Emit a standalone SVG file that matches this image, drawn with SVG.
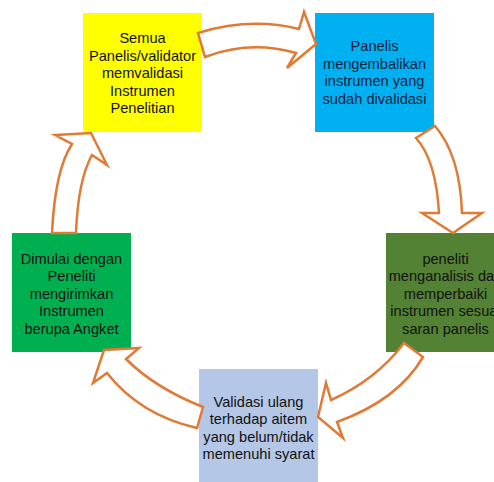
<svg xmlns="http://www.w3.org/2000/svg" width="494" height="482" viewBox="0 0 494 482">
<style>
text{font-family:"Liberation Sans",Arial,sans-serif;font-size:14.6px;text-anchor:middle;fill:#111}
.arrow{fill:#fff;stroke:#E07A35;stroke-width:2.5;stroke-linejoin:miter}
</style>
<rect width="494" height="482" fill="#fff"/>
<g id="node-yellow">
<rect x="83" y="13" width="119" height="119" fill="#FFFF00"/>
<text x="142.5" y="43">Semua</text>
<text x="142.5" y="60.5">Panelis/validator</text>
<text x="142.5" y="78">memvalidasi</text>
<text x="142.5" y="95.5">Instrumen</text>
<text x="142.5" y="113">Penelitian</text>
</g>
<g id="node-blue">
<rect x="315" y="13" width="119" height="119" fill="#00B0F0"/>
<text x="374.5" y="51" style="fill:#0F2240">Panelis</text>
<text x="374.5" y="68.5" style="fill:#0F2240">mengembalikan</text>
<text x="374.5" y="86" style="fill:#0F2240">instrumen yang</text>
<text x="374.5" y="103.5" style="fill:#0F2240">sudah divalidasi</text>
</g>
<g id="node-darkgreen">
<rect x="386" y="233" width="119" height="119" fill="#548235"/>
<text x="445.5" y="263.5">peneliti</text>
<text x="445.5" y="281">menganalisis dan</text>
<text x="445.5" y="298.5">memperbaiki</text>
<text x="445.5" y="316">instrumen sesuai</text>
<text x="445.5" y="333.5">saran panelis</text>
</g>
<g id="node-lightblue">
<rect x="199" y="369" width="119" height="119" fill="#B4C7E7"/>
<text x="258.5" y="406.5">Validasi ulang</text>
<text x="258.5" y="424">terhadap aitem</text>
<text x="258.5" y="441.5">yang belum/tidak</text>
<text x="258.5" y="459">memenuhi syarat</text>
</g>
<g id="node-green">
<rect x="12" y="233" width="119" height="119" fill="#00B050"/>
<text x="71.5" y="263.5">Dimulai dengan</text>
<text x="71.5" y="281">Peneliti</text>
<text x="71.5" y="298.5">mengirimkan</text>
<text x="71.5" y="316">Instrumen</text>
<text x="71.5" y="333.5">berupa Angket</text>
</g>
<g id="connectors">
<path class="arrow" d="M198,33 Q250,17 299,29 L304,12 L316,44 L287,68 L296,53 Q250,40 205,57 Z"/>
<path class="arrow" d="M435,126 L416,138 Q436,160 439,213 L422,213 L453,233 L482,213 L462,213 Q460,155 435,126 Z"/>
<path class="arrow" d="M404,343 L423,357 Q398,400 337,422 L343,438 L318,417 L326,383 L331,400 Q376,380 404,343 Z"/>
<path class="arrow" d="M203,407 L197,428 Q140,415 107,373 L93,383 L104,350 L139,348 L126,359 Q155,388 203,407 Z"/>
<path class="arrow" d="M52,233 L76,233 Q78,180 92,155 L107,165 L91,133 L55,135 L72,144 Q55,170 52,233 Z"/>
</g>
</svg>
